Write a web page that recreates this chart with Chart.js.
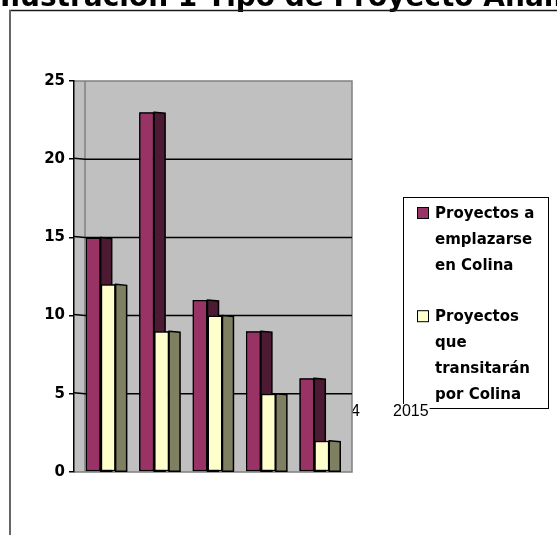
<!DOCTYPE html>
<html>
<head>
<meta charset="utf-8">
<script src="https://cdn.jsdelivr.net/npm/chart.js@4/dist/chart.umd.min.js"></script>
<style>
  html, body { margin: 0; padding: 0; background: #fff; }
  canvas { display: block; }
</style>
</head>
<body>
<canvas id="chart" width="557" height="535"></canvas>
<script>
// Datos del gráfico
const categorias = ['1', '2', '3', '4', '5'];
const proyectosEmplazarse = [15, 23, 11, 9, 6];
const proyectosTransitaran = [12, 9, 10, 5, 2];
const leyendaEmplazarse = ['Proyectos a', 'emplazarse', 'en Colina'];
const leyendaTransitaran = ['Proyectos', 'que', 'transitarán', 'por Colina'];
const ticksY = [0, 5, 10, 15, 20, 25];
const etiquetasSueltas = ['2014', '2015'];
const titulo = 'Ilustración 1 Tipo de Proyecto Analizado';

const leyendas = [leyendaEmplazarse, leyendaTransitaran];
const coloresLado = ['#4d1a33', '#7f7f62'];
const PROF = 11; // profundidad del efecto 3D

// Fondo: título cortado, marco, pared gris y líneas de división
const fondo3D = {
  id: 'fondo3D',
  beforeDraw(chart) {
    const { ctx, chartArea: a, scales: { y } } = chart;
    ctx.save();
    ctx.fillStyle = '#fff';
    ctx.fillRect(0, 0, chart.width, chart.height);

    ctx.fillStyle = '#000';
    ctx.font = 'bold 28px "DejaVu Sans"';
    ctx.textBaseline = 'alphabetic';
    ctx.fillText(titulo, 0, 6);

    // marco
    ctx.strokeStyle = '#1a1a1a';
    ctx.lineWidth = 1.5;
    ctx.beginPath();
    ctx.moveTo(9, 10.5);
    ctx.lineTo(chart.width, 10.5);
    ctx.stroke();
    ctx.strokeStyle = '#666';
    ctx.lineWidth = 2;
    ctx.beginPath();
    ctx.moveTo(10, 10);
    ctx.lineTo(10, chart.height);
    ctx.stroke();

    // etiqueta suelta que queda tapada por el área de trazado
    ctx.font = '16px "Liberation Sans"';
    ctx.textAlign = 'right';
    ctx.fillText(etiquetasSueltas[0], 360, 416);

    // pared del fondo
    ctx.fillStyle = '#c0c0c0';
    ctx.fillRect(a.left, a.top, a.right + PROF - a.left, a.bottom - a.top);
    ctx.strokeStyle = '#808080';
    ctx.lineWidth = 1.5;
    ctx.beginPath();
    ctx.moveTo(a.left, a.top);
    ctx.lineTo(a.right + PROF, a.top);
    ctx.lineTo(a.right + PROF, a.bottom);
    ctx.lineTo(a.left, a.bottom);
    ctx.moveTo(a.left + PROF, a.top);
    ctx.lineTo(a.left + PROF, a.bottom);
    ctx.stroke();

    // líneas de división
    ctx.strokeStyle = '#000';
    ctx.lineWidth = 1.5;
    ticksY.forEach(v => {
      if (v === 0 || v === ticksY[ticksY.length - 1]) return;
      const py = y.getPixelForValue(v);
      ctx.beginPath();
      ctx.moveTo(a.left, py - 1);
      ctx.lineTo(a.left + PROF, py);
      ctx.lineTo(a.right + PROF, py);
      ctx.stroke();
    });
    ctx.restore();
  },

  // columnas: cara frontal y lateral, serie por serie de izquierda a derecha
  afterDatasetsDraw(chart) {
    const { ctx } = chart;
    ctx.save();
    chart.data.datasets.forEach((ds, i) => {
      const meta = chart.getDatasetMeta(i);
      meta.data.forEach(bar => {
        bar.draw(ctx, chart.chartArea);
        const { x, y, base, width } = bar.getProps(['x', 'y', 'base', 'width'], true);
        const r = x + width / 2;
        ctx.fillStyle = coloresLado[i];
        ctx.strokeStyle = '#000';
        ctx.lineWidth = 1.5;
        ctx.beginPath();
        ctx.moveTo(r, y);
        ctx.lineTo(r + PROF, y + 1);
        ctx.lineTo(r + PROF, base);
        ctx.lineTo(r, base);
        ctx.closePath();
        ctx.fill();
        ctx.stroke();
      });
    });
    ctx.restore();
  },

  // leyenda con texto en varias líneas
  afterDraw(chart) {
    const { ctx } = chart;
    ctx.save();
    ctx.fillStyle = '#fff';
    ctx.fillRect(403, 197, 145, 211);
    ctx.strokeStyle = '#000';
    ctx.lineWidth = 1;
    ctx.strokeRect(403.5, 197.5, 145, 211);

    ctx.font = 'bold 15px "DejaVu Sans"';
    ctx.textBaseline = 'alphabetic';
    const lh = 25.8;
    let base = 218;
    chart.data.datasets.forEach((ds, i) => {
      ctx.fillStyle = ds.backgroundColor;
      ctx.fillRect(417.5, base - 10.5, 11, 11);
      ctx.strokeRect(417.5, base - 10.5, 11, 11);
      ctx.fillStyle = '#000';
      leyendas[i].forEach((t, j) => ctx.fillText(t, 435, base + j * lh));
      base += (leyendas[i].length + 1) * lh;
    });

    // segunda etiqueta suelta, encima del borde de la leyenda
    ctx.font = '16px "Liberation Sans"';
    const w = ctx.measureText(etiquetasSueltas[1]).width;
    ctx.fillStyle = '#fff';
    ctx.fillRect(392, 404, w + 2, 13);
    ctx.fillStyle = '#000';
    ctx.fillText(etiquetasSueltas[1], 393, 416);
    ctx.restore();
  }
};

new Chart(document.getElementById('chart'), {
  type: 'bar',
  data: {
    labels: categorias,
    datasets: [
      {
        label: leyendaEmplazarse.join(' '),
        data: proyectosEmplazarse,
        backgroundColor: '#993366',
        borderColor: '#000',
        borderWidth: 1.5,
        borderSkipped: false
      },
      {
        label: leyendaTransitaran.join(' '),
        data: proyectosTransitaran,
        backgroundColor: '#ffffcc',
        borderColor: '#000',
        borderWidth: 1.5,
        borderSkipped: false
      }
    ]
  },
  options: {
    responsive: false,
    animation: false,
    categoryPercentage: 0.56,
    barPercentage: 1,
    layout: {
      padding: { top: 81, right: 216, bottom: 63, left: 0 }
    },
    plugins: {
      legend: { display: false },
      tooltip: { enabled: false },
      title: { display: false }
    },
    scales: {
      x: {
        display: false,
        offset: true
      },
      y: {
        min: 0,
        max: 25,
        afterBuildTicks: s => { s.ticks = ticksY.map(v => ({ value: v })); },
        afterFit: s => { s.width = 74; },
        ticks: {
          color: '#000',
          padding: 4,
          font: { family: 'DejaVu Sans', weight: 'bold', size: 15 }
        },
        grid: {
          drawOnChartArea: false,
          color: '#000',
          lineWidth: 1.5,
          tickLength: 5
        },
        border: { color: '#000', width: 1.5 }
      }
    }
  },
  plugins: [fondo3D]
});
</script>
</body>
</html>
